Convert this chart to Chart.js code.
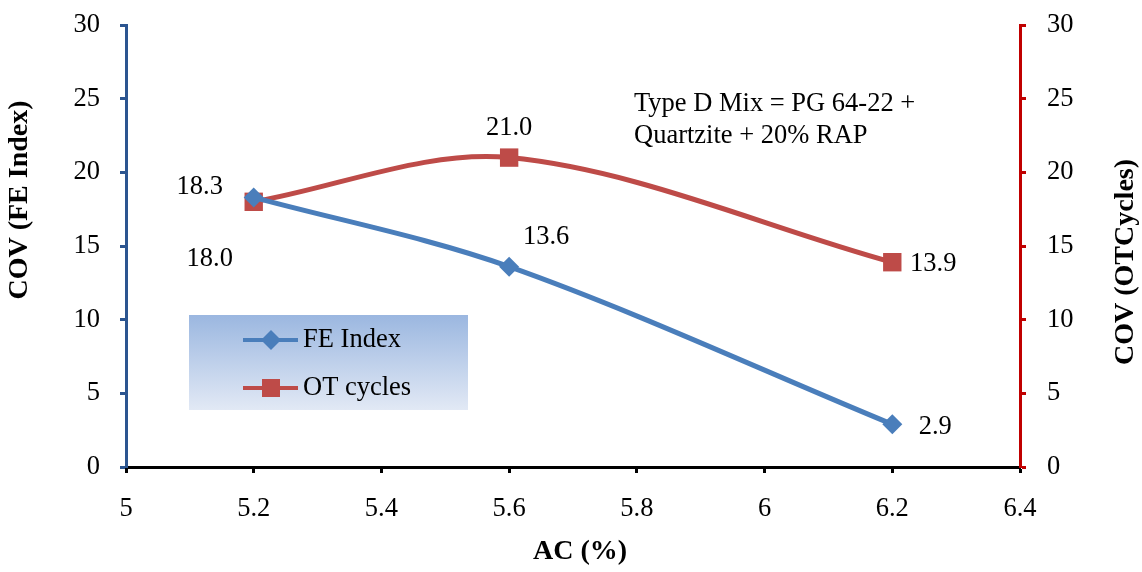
<!DOCTYPE html>
<html>
<head>
<meta charset="utf-8">
<script src="https://cdn.jsdelivr.net/npm/chart.js@4"></script>
<style>
  html, body { margin: 0; padding: 0; background: #fff; }
  #wrap { width: 1142px; height: 572px; position: relative; }
</style>
</head>
<body>
<div id="wrap"><canvas id="chart"></canvas></div>
<script>
// valores
const acValues = [5.2, 5.6, 6.2];
const feIndex = [18.3, 13.6, 2.9];
const otCycles = [18.0, 21.0, 13.9];
const xTicks = [5, 5.2, 5.4, 5.6, 5.8, 6, 6.2, 6.4];
const yTicks = [0, 5, 10, 15, 20, 25, 30];

const FONT = "'Liberation Serif', 'Times New Roman', serif";
const BLUE = '#4a7ebb';
const RED = '#be4b48';

// deslocamento dos rótulos de dados (pixels) em relação ao ponto
const feLabelOffsets = [[-54, -10], [37, -30], [43, 3]];
const otLabelOffsets = [[-44, 57], [0, -30], [41, 2]];

function pts(ys) {
    return acValues.map((x, i) => ({ x: x, y: ys[i] }));
}

// tamanho fixo dos eixos, sem folga extra para os rótulos
function fixSize(w, h) {
    return (s) => {
        if (w !== null) s.width = w;
        if (h !== null) s.height = h;
        s.paddingTop = 0;
        s.paddingBottom = 0;
        s.paddingLeft = 0;
        s.paddingRight = 0;
    };
}

const extras = {
    id: 'extras',
    afterDatasetsDraw(chart) {
        const ctx = chart.ctx;
        ctx.save();
        ctx.fillStyle = '#000';
        ctx.font = '26.5px ' + FONT;
        ctx.textAlign = 'center';
        ctx.textBaseline = 'middle';

        // rótulos de dados
        [[0, feIndex, feLabelOffsets], [1, otCycles, otLabelOffsets]].forEach(([di, vals, offs]) => {
            const meta = chart.getDatasetMeta(di);
            meta.data.forEach((el, i) => {
                ctx.fillText(vals[i].toFixed(1), el.x + offs[i][0], el.y + offs[i][1]);
            });
        });

        // texto da mistura
        ctx.textAlign = 'left';
        ctx.fillText('Type D Mix = PG 64-22 +', 634, 104);
        ctx.fillText('Quartzite + 20% RAP', 634, 136);

        // legenda
        const g = ctx.createLinearGradient(0, 315, 0, 410);
        g.addColorStop(0, '#9bb7e0');
        g.addColorStop(1, '#e2e9f5');
        ctx.fillStyle = g;
        ctx.fillRect(189, 315, 279, 95);

        ctx.lineWidth = 4;
        ctx.strokeStyle = BLUE;
        ctx.beginPath(); ctx.moveTo(243, 340); ctx.lineTo(298, 340); ctx.stroke();
        ctx.fillStyle = BLUE;
        ctx.beginPath();
        ctx.moveTo(271, 330); ctx.lineTo(281, 340); ctx.lineTo(271, 350); ctx.lineTo(261, 340);
        ctx.closePath(); ctx.fill();

        ctx.strokeStyle = RED;
        ctx.beginPath(); ctx.moveTo(243, 388); ctx.lineTo(298, 388); ctx.stroke();
        ctx.fillStyle = RED;
        ctx.fillRect(262, 379, 18, 18);

        ctx.fillStyle = '#000';
        ctx.fillText('FE Index', 303, 340);
        ctx.fillText('OT cycles', 303, 388);

        // títulos dos eixos
        ctx.font = 'bold 28px ' + FONT;
        ctx.textAlign = 'center';
        ctx.fillText('AC (%)', 580, 552);

        ctx.save();
        ctx.translate(20, 200);
        ctx.rotate(-Math.PI / 2);
        ctx.fillText('COV (FE Index)', 0, 0);
        ctx.restore();

        ctx.save();
        ctx.translate(1126, 262);
        ctx.rotate(-Math.PI / 2);
        ctx.fillText('COV (OTCycles)', 0, 0);
        ctx.restore();

        ctx.restore();
    }
};

new Chart(document.getElementById('chart'), {
    type: 'line',
    data: {
        datasets: [{
            label: 'FE Index',
            data: pts(feIndex),
            yAxisID: 'y',
            borderColor: BLUE,
            backgroundColor: BLUE,
            borderWidth: 5,
            tension: 0.33,
            pointStyle: 'rectRot',
            pointRadius: 10,
            pointBorderWidth: 0,
            fill: false,
            clip: false
        }, {
            label: 'OT cycles',
            data: pts(otCycles),
            yAxisID: 'y2',
            borderColor: RED,
            backgroundColor: RED,
            borderWidth: 5,
            tension: 0.33,
            pointStyle: 'rect',
            pointRadius: 13,
            pointBorderWidth: 0,
            fill: false,
            clip: false
        }]
    },
    options: {
        responsive: true,
        maintainAspectRatio: false,
        animation: false,
        layout: { padding: { top: 25, left: 0, right: 0, bottom: 0 } },
        plugins: {
            legend: { display: false },
            tooltip: { enabled: false }
        },
        scales: {
            x: {
                type: 'linear',
                min: 5,
                max: 6.4,
                afterBuildTicks: (s) => { s.ticks = xTicks.map(v => ({ value: v })); },
                afterFit: fixSize(null, 105),
                border: { color: '#000', width: 3 },
                grid: { drawOnChartArea: false, tickLength: 6, tickWidth: 3, tickColor: '#000' },
                ticks: {
                    color: '#000',
                    padding: 20,
                    maxRotation: 0,
                    font: { family: FONT, size: 26.5 },
                    callback: (v) => String(Number(v.toFixed(1)))
                }
            },
            y: {
                position: 'left',
                min: 0,
                max: 30,
                afterBuildTicks: (s) => { s.ticks = yTicks.map(v => ({ value: v })); },
                afterFit: fixSize(126, null),
                border: { color: '#2c5590', width: 3 },
                grid: { drawOnChartArea: false, tickLength: 6, tickWidth: 3, tickColor: '#2c5590' },
                ticks: { color: '#000', padding: 20, font: { family: FONT, size: 26.5 } }
            },
            y2: {
                position: 'right',
                min: 0,
                max: 30,
                afterBuildTicks: (s) => { s.ticks = yTicks.map(v => ({ value: v })); },
                afterFit: fixSize(122, null),
                border: { color: '#c00000', width: 3 },
                grid: { drawOnChartArea: false, tickLength: 6, tickWidth: 3, tickColor: '#c00000' },
                ticks: { color: '#000', padding: 21, font: { family: FONT, size: 26.5 } }
            }
        }
    },
    plugins: [extras]
});
</script>
</body>
</html>
